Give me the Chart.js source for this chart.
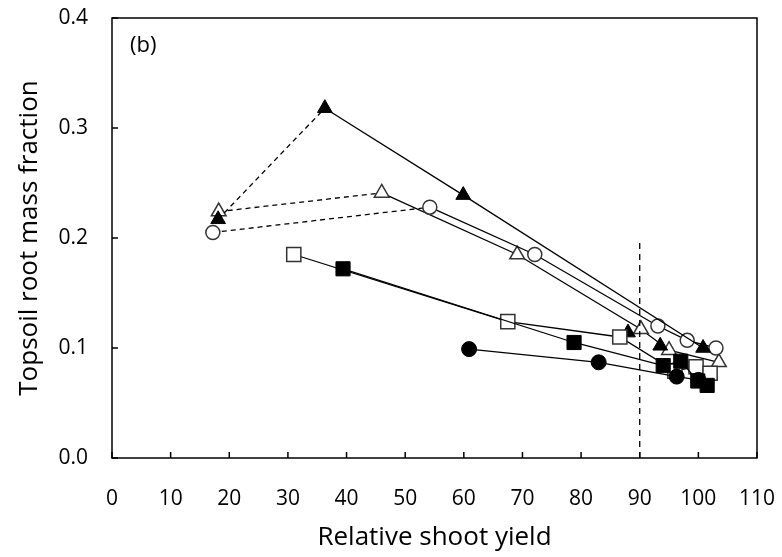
<!DOCTYPE html>
<html lang="en">
<head>
    <meta charset="UTF-8">
    <title>Topsoil root mass fraction vs relative shoot yield</title>
    <script src="https://cdn.jsdelivr.net/npm/chart.js"></script>
    <style>
        html, body { margin: 0; padding: 0; background: #fff; }
        #wrap { width: 782px; height: 557px; }
    </style>
</head>
<body>
<div id="wrap"><canvas id="rootChart" width="782" height="557"></canvas></div>

<script>
    // values (relative shoot yield, topsoil root mass fraction)
    const filledTriX = [18.1, 36.3, 59.9, 100.8];
    const filledTriY = [0.217, 0.318, 0.239, 0.100];
    const filledTriExtraX = [88.0, 93.5];
    const filledTriExtraY = [0.114, 0.102];
    const openTriX = [18.2, 46.0, 69.1, 90.2, 95.0, 103.5];
    const openTriY = [0.224, 0.241, 0.185, 0.117, 0.098, 0.087];
    const openCircX = [17.2, 54.2, 72.1, 93.1, 98.1, 103.0];
    const openCircY = [0.205, 0.228, 0.185, 0.120, 0.107, 0.100];
    const openSqX = [31.0, 67.5, 86.6, 96.0, 99.6, 102.0];
    const openSqY = [0.185, 0.124, 0.110, 0.079, 0.083, 0.077];
    const filledSqX = [39.4, 78.8, 94.0, 97.0, 99.9, 101.5];
    const filledSqY = [0.172, 0.105, 0.084, 0.088, 0.070, 0.066];
    const filledCircX = [60.9, 83.0, 96.3, 100.0];
    const filledCircY = [0.099, 0.087, 0.074, 0.071];
    const cutoffX = [90, 90];
    const cutoffY = [0, 0.2];

    const xTicks = [0, 10, 20, 30, 40, 50, 60, 70, 80, 90, 100, 110];
    const yTicks = [0.0, 0.1, 0.2, 0.3, 0.4];

    const pts = (xs, ys) => xs.map((x, i) => ({ x: x, y: ys[i] }));
    const dashFirst = { borderDash: ctx => ctx.p0DataIndex === 0 ? [5, 4] : undefined };

    function series(xs, ys, style, filled, radius, dashed) {
        return {
            data: pts(xs, ys),
            showLine: true,
            borderColor: '#000',
            borderWidth: 1.3,
            pointStyle: style,
            pointRadius: radius,
            pointBorderColor: filled ? '#000' : '#333',
            pointBorderWidth: filled ? 1 : 1.5,
            pointBackgroundColor: filled ? '#000' : '#fff',
            segment: dashed ? dashFirst : undefined
        };
    }

    // frame, inward tick marks and panel label
    const framePlugin = {
        id: 'frame',
        afterDraw(chart) {
            const c = chart.ctx, a = chart.chartArea;
            const xs = chart.scales.x, ys = chart.scales.y;
            c.save();
            c.strokeStyle = '#000';
            c.lineWidth = 1.5;
            c.strokeRect(a.left, a.top, a.right - a.left, a.bottom - a.top);
            c.beginPath();
            xs.ticks.forEach(t => {
                const px = xs.getPixelForValue(t.value);
                c.moveTo(px, a.bottom);
                c.lineTo(px, a.bottom - 6);
            });
            ys.ticks.forEach(t => {
                const py = ys.getPixelForValue(t.value);
                c.moveTo(a.left, py);
                c.lineTo(a.left + 6, py);
            });
            c.stroke();
            c.fillStyle = '#000';
            c.font = '22px "Open Sans"';
            c.textBaseline = 'middle';
            c.fillText('(b)', a.left + 18, a.top + 28);
            c.restore();
        }
    };

    const ctx = document.getElementById('rootChart').getContext('2d');
    new Chart(ctx, {
        type: 'scatter',
        data: {
            datasets: [
                {
                    data: pts(cutoffX, cutoffY),
                    showLine: true,
                    borderColor: '#000',
                    borderWidth: 1.3,
                    borderDash: [6, 5],
                    pointRadius: 0
                },
                series(filledCircX, filledCircY, 'circle', true, 7.5),
                series(filledSqX, filledSqY, 'rect', true, 10),
                series(openSqX, openSqY, 'rect', false, 10),
                series(filledTriX, filledTriY, 'triangle', true, 8.5, true),
                {
                    data: pts(filledTriExtraX, filledTriExtraY),
                    showLine: false,
                    pointStyle: 'triangle',
                    pointRadius: 8.5,
                    pointBorderColor: '#000',
                    pointBackgroundColor: '#000'
                },
                series(openCircX, openCircY, 'circle', false, 7, true),
                series(openTriX, openTriY, 'triangle', false, 8.5, true)
            ]
        },
        options: {
            responsive: false,
            animation: false,
            layout: { padding: { left: 0, right: 25, top: 18, bottom: 0 } },
            plugins: {
                legend: { display: false },
                tooltip: { enabled: false }
            },
            scales: {
                x: {
                    type: 'linear',
                    min: 0,
                    max: 110,
                    afterFit: s => { s.height = 99; s.paddingLeft = 0; s.paddingRight = 0; },
                    afterBuildTicks: s => { s.ticks = xTicks.map(v => ({ value: v })); },
                    grid: { display: false },
                    border: { display: false },
                    ticks: {
                        padding: 20,
                        color: '#000',
                        font: { family: 'Open Sans', size: 21 }
                    },
                    title: {
                        display: true,
                        text: 'Relative shoot yield',
                        color: '#000',
                        font: { family: 'Open Sans', size: 26 },
                        padding: { top: 0, bottom: 4 }
                    }
                },
                y: {
                    type: 'linear',
                    min: 0,
                    max: 0.4,
                    afterFit: s => { s.width = 112; s.paddingTop = 0; s.paddingBottom = 0; },
                    afterBuildTicks: s => { s.ticks = yTicks.map(v => ({ value: v })); },
                    grid: { display: false },
                    border: { display: false },
                    ticks: {
                        padding: 16,
                        color: '#000',
                        font: { family: 'Open Sans', size: 21 },
                        callback: v => Number(v).toFixed(1)
                    },
                    title: {
                        display: true,
                        text: 'Topsoil root mass fraction',
                        color: '#000',
                        font: { family: 'Open Sans', size: 26 },
                        padding: { top: 14, bottom: 0 }
                    }
                }
            }
        },
        plugins: [framePlugin]
    });
</script>
</body>
</html>
